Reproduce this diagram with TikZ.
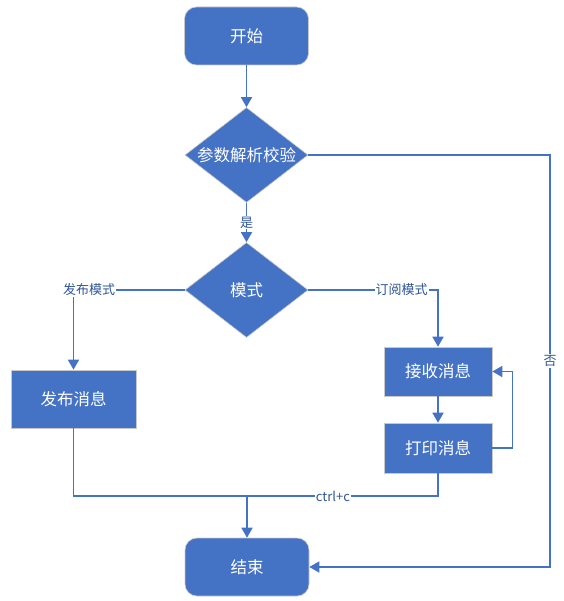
\documentclass[tikz,border=0pt]{standalone}
\usepackage{fontspec}
\setmainfont{Noto Sans CJK SC}
\usetikzlibrary{shapes.geometric,arrows.meta}
\definecolor{boxblue}{HTML}{4472C4}
\definecolor{labelblue}{HTML}{2F5597}
\definecolor{rimgrey}{HTML}{C9C9C9}

\begin{document}
\begin{tikzpicture}[x=1pt, y=-1pt, >={Triangle[width=11pt,length=10pt]},
  every box/.style={draw=rimgrey, line width=0.6pt, fill=boxblue, text=white,
    font=\fontsize{16.5}{18}\selectfont},
  terminal/.style={every box, rounded corners=12pt, minimum width=124pt, minimum height=58pt},
  decision/.style={every box, diamond, aspect=1.3, inner sep=0pt, minimum width=123pt, minimum height=95pt},
  process/.style={every box, minimum width=108pt, minimum height=49pt},
  flow/.style={draw=boxblue, line width=1.6pt},
  lab/.style={fill=white, inner sep=1pt, text=labelblue, font=\fontsize{13}{15}\selectfont}]
\useasboundingbox (0,0) rectangle (563,601);

% nodes
\node [terminal] (start) at (246.5,36) {开始};
\node [decision] (check) at (246.5,155) {参数解析校验};
\node [decision] (mode) at (246.5,290) {模式};
\node [process, minimum width=125pt, minimum height=58pt] (pub) at (73.5,399) {发布消息};
\node [process] (recv) at (438,371.5) {接收消息};
\node [process, minimum height=50pt] (print) at (438,448) {打印消息};
\node [terminal] (end) at (247,567) {结束};

\coordinate (no) at (550,155);
\coordinate (merge) at (247,496);

% connectors
\draw [flow,->] (start) -- (check);
\draw [flow,->] (check) -- node [lab] {是} (mode);
\draw [flow,->] (check.east) -- (no) |- node [lab,pos=0.25] {否} (end.east);

\draw [flow,->] (mode.west) -| node [lab,pos=0.43] {发布模式} (pub.north);
\draw [flow,->] (mode.east) -| node [lab,pos=0.36] {订阅模式} (recv.north);

\draw [flow,->] (recv) -- (print);
\draw [flow,->] (print.east) -- ++(20,0) |- (recv.east);

\draw [flow] (pub.south) |- (merge);
\draw [flow] (print.south) |- node [lab,pos=0.775] {ctrl+c} (merge);
\draw [flow,->] (merge) -- (end.north);

\end{tikzpicture}
\end{document}
